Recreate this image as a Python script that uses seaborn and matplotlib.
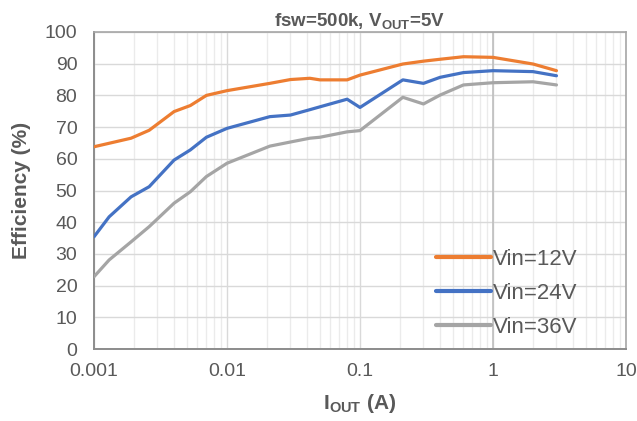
import numpy as np
import pandas as pd
import matplotlib
matplotlib.use("Agg")
import matplotlib.pyplot as plt
import seaborn as sns
from matplotlib.ticker import LogLocator, FixedLocator, FixedFormatter

# ---- data ----
iout = [0.001, 0.0013, 0.0019, 0.0026, 0.004, 0.0053, 0.007, 0.01, 0.021, 0.03,
        0.042, 0.05, 0.08, 0.1, 0.21, 0.3, 0.4, 0.6, 1.0, 2.0, 3.0]
eff_12v = [63.8, 64.9, 66.5, 69.0, 74.9, 76.8, 80.0, 81.5, 83.8, 85.0,
           85.4, 84.9, 84.9, 86.4, 89.9, 90.8, 91.4, 92.2, 92.0, 89.9, 87.8]
eff_24v = [35.4, 41.7, 48.0, 51.2, 59.6, 62.8, 66.8, 69.6, 73.3, 73.8,
           75.5, 76.4, 78.8, 76.2, 84.9, 83.8, 85.7, 87.2, 87.8, 87.5, 86.2]
eff_36v = [22.8, 28.1, 33.8, 38.6, 46.0, 49.6, 54.4, 58.6, 64.0, 65.3,
           66.5, 66.8, 68.5, 68.9, 79.4, 77.3, 80.1, 83.3, 84.0, 84.3, 83.3]
series_names = ["Vin=12V", "Vin=24V", "Vin=36V"]
x_ticks = [0.001, 0.01, 0.1, 1, 10]
x_tick_labels = ["0.001", "0.01", "0.1", "1", "10"]
y_ticks = list(range(0, 101, 10))

df = pd.concat([
    pd.DataFrame({"Iout": iout, "Eff": vals, "Series": name})
    for name, vals in zip(series_names, [eff_12v, eff_24v, eff_36v])
], ignore_index=True)

sns.set_theme(style="white")
plt.rcParams["font.family"] = ["Liberation Sans", "DejaVu Sans"]
plt.rcParams["mathtext.fontset"] = "custom"
plt.rcParams["mathtext.rm"] = "Liberation Sans"
plt.rcParams["mathtext.bf"] = "Liberation Sans:bold"

txt = "#595959"
fig = plt.figure(figsize=(6.37, 4.21), dpi=100)
ax = fig.add_axes([94/637, 72/421, 532/637, 317/421])

palette = {"Vin=12V": "#ED7D31", "Vin=24V": "#4472C4", "Vin=36V": "#A5A5A5"}
sns.lineplot(data=df, x="Iout", y="Eff", hue="Series", palette=palette,
             linewidth=2.3, ax=ax, legend=True, zorder=3)

ax.set_xscale("log")
ax.set_xlim(0.001, 10)
ax.set_ylim(0, 100)
ax.xaxis.set_major_locator(FixedLocator(x_ticks))
ax.xaxis.set_major_formatter(FixedFormatter(x_tick_labels))
ax.xaxis.set_minor_locator(LogLocator(base=10, subs=np.arange(2, 10), numticks=20))
ax.set_yticks(y_ticks)

ax.grid(which="minor", axis="x", color="#EBEBEB", linewidth=1.0, zorder=0)
ax.grid(which="major", axis="x", color="#D9D9D9", linewidth=1.0, zorder=0)
ax.grid(which="major", axis="y", color="#D9D9D9", linewidth=1.0, zorder=0)
ax.axvline(1, color="#BFBFBF", linewidth=1.2, zorder=1)
ax.set_axisbelow(True)

for s in ["top", "right"]:
    ax.spines[s].set_color("#A6A6A6")
    ax.spines[s].set_linewidth(1.2)
for s in ["left", "bottom"]:
    ax.spines[s].set_color("#8C8C8C")
    ax.spines[s].set_linewidth(1.4)

ax.tick_params(axis="y", which="both", length=0, labelsize=14, labelcolor=txt, pad=12)
ax.tick_params(axis="x", which="both", length=0, labelsize=14, labelcolor=txt, pad=10)

ax.set_xlabel(r"I$_{\mathbf{OUT}}$ (A)", fontsize=15, fontweight="bold", color=txt, labelpad=9)
ax.set_ylabel("Efficiency (%)", fontsize=15, fontweight="bold", color=txt, labelpad=10)
ax.set_title(r"fsw=500k, V$_{\mathbf{OUT}}$=5V", fontsize=13.5, fontweight="bold", color=txt, pad=4)

leg = ax.legend(loc="upper left", bbox_to_anchor=(0.627, 0.345), frameon=False,
                fontsize=16, handlelength=2.45, handletextpad=0.1, labelspacing=0.6,
                borderaxespad=0)
for t in leg.get_texts():
    t.set_color(txt)
for h in leg.get_lines():
    h.set_linewidth(3)

fig.savefig("out.png", dpi=100)
